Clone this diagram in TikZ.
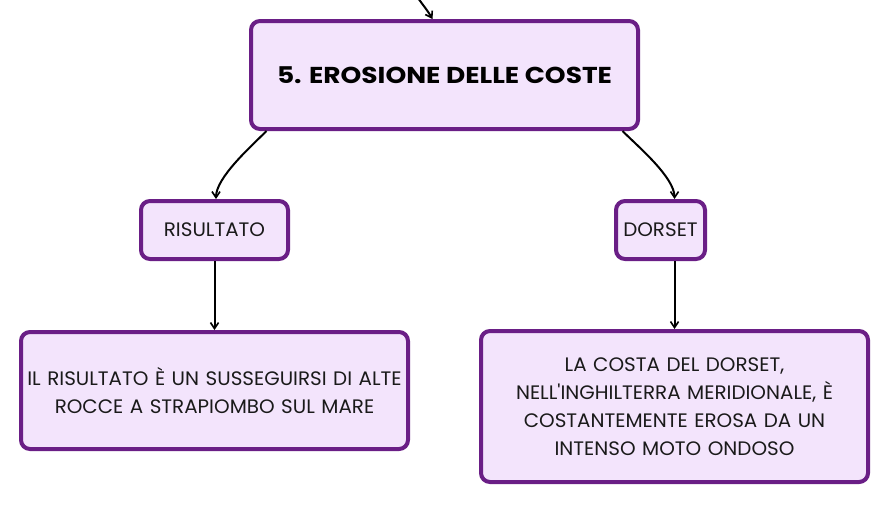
\documentclass[tikz,border=0pt]{standalone}
\usepackage{fontspec}
\setmainfont[FakeStretch=1.02]{Poppins}
\newfontfamily\bodyfont[FakeStretch=1.02]{Poppins}
\newfontfamily\titlefont[FakeStretch=1.15]{Poppins}
\usetikzlibrary{arrows.meta}
\definecolor{boxfill}{HTML}{F3E4FC}
\definecolor{boxline}{HTML}{6A1E86}
\definecolor{txt}{HTML}{1A1A1A}
\tikzset{
  box/.style={draw=boxline, fill=boxfill, line width=4pt, rounded corners=9pt,
    align=center, text=txt, inner sep=0pt,
    font=\bodyfont\fontsize{19.5}{28}\selectfont},
  conn/.style={draw=black, line width=2pt, -{Straight Barb[length=6pt,width=8pt,line width=1.6pt]}},
}
\begin{document}
\begin{tikzpicture}[x=1pt,y=-1pt]
\useasboundingbox (0,0) rectangle (890,504);
\node[box, minimum width=387pt, minimum height=108pt, font=\titlefont\fontsize{23}{28}\selectfont\bfseries, text=black] (main) at (444.5,75) {5. EROSIONE DELLE COSTE};
\node[box, minimum width=147pt, minimum height=58pt] (ris) at (214.5,230) {RISULTATO};
\node[box, minimum width=89pt, minimum height=58pt] (dor) at (660.5,230) {DORSET};
\node[box, minimum width=387pt, minimum height=117pt, text width=380pt] (lb) at (214.5,390.5) {IL RISULTATO È UN SUSSEGUIRSI DI ALTE\\ROCCE A STRAPIOMBO SUL MARE};
\node[box, minimum width=387pt, minimum height=151pt, text width=380pt] (rb) at (674.5,406.5) {LA COSTA DEL DORSET,\\NELL'INGHILTERRA MERIDIONALE, È\\COSTANTEMENTE EROSA DA UN\\INTENSO MOTO ONDOSO};
\coordinate (top) at (418,-2);
\draw[conn] (top) to[out=-55, in=120] ([xshift=-12pt]main.north);
\draw[conn] ([xshift=-178pt]main.south) to[out=-135, in=90, looseness=0.65] ([xshift=1.5pt]ris.north);
\draw[conn] ([xshift=178pt]main.south) to[out=-45, in=90, looseness=0.65] (dor.north -| rb.north);
\draw[conn] (ris.south) -- (lb.north);
\draw[conn] (dor.south -| rb.north) -- (rb.north);
\end{tikzpicture}
\end{document}
